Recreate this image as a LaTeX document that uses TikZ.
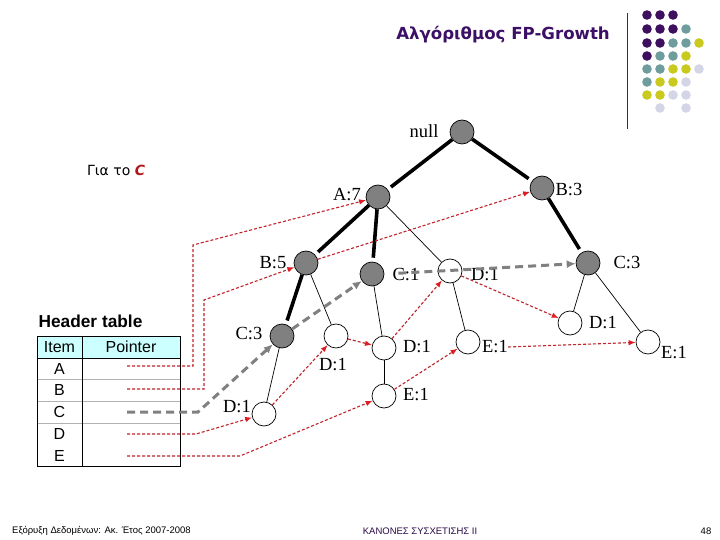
\documentclass[tikz,border=0pt]{standalone}
\usepackage{fontspec}
\setmainfont{Liberation Serif}
\newfontfamily\arialf{Liberation Sans}
\newfontfamily\titlef{DejaVu Sans}
\usetikzlibrary{arrows.meta}
\definecolor{ptr}{HTML}{C0232B}
\definecolor{ptrhead}{HTML}{DD1C24}
\definecolor{nodegray}{HTML}{808080}
\definecolor{hdrcyan}{HTML}{CCFFFF}
\definecolor{titlepurple}{HTML}{3C1066}
\definecolor{dpurple}{HTML}{3E0F5E}
\definecolor{dteal}{HTML}{6F9D9D}
\definecolor{dyellow}{HTML}{C9C91E}
\definecolor{dlav}{HTML}{D5D5E8}
\definecolor{gcred}{HTML}{B01818}
\tikzset{
  gnode/.style={circle,draw=black,line width=0.7pt,fill=nodegray,minimum size=24pt,inner sep=0pt},
  wnode/.style={circle,draw=black,line width=0.7pt,fill=white,minimum size=24pt,inner sep=0pt},
  lbl/.style={inner sep=0pt,font=\fontsize{18.5}{20}\selectfont},
  thk/.style={line width=3.6pt,shorten >=4pt},
  thn/.style={line width=0.7pt},
  redptr/.style={draw=ptr,line width=1.1pt,dash pattern=on 3pt off 2pt,-{Latex[length=7pt,width=5.5pt,fill=ptrhead,color=ptrhead]}},
  grayptr/.style={draw=nodegray,line width=3pt,dash pattern=on 8pt off 5pt,-{Latex[length=9pt,width=8pt]}},
  tabtxt/.style={inner sep=0pt,font=\arialf\fontsize{16}{18}\selectfont},
  foot/.style={inner sep=0pt,font=\arialf\fontsize{9.5}{11}\selectfont}
}
\begin{document}
\begin{tikzpicture}[x=1pt,y=-1pt]
\useasboundingbox (0,0) rectangle (720,540);
\fill[white] (0,0) rectangle (720,540);

% title and decoration
\node[inner sep=0pt,font=\titlef\bfseries\fontsize{16.6}{18}\selectfont,text=titlepurple] (title) at (503,35) {Αλγόριθμος FP-Growth};
\draw[line width=1pt,black!80] (627,13) -- (627,129);
\foreach \c/\x/\y in {dpurple/647/15,dpurple/660/15,dpurple/673/15,
  dpurple/647/29,dpurple/660/29,dpurple/673/29,dteal/686/29,
  dpurple/647/43,dpurple/660/43,dteal/673/43,dteal/686/43,dyellow/699/43,
  dpurple/647/56,dteal/660/56,dteal/673/56,dyellow/686/56,
  dteal/647/69,dteal/660/69,dyellow/673/69,dyellow/686/69,dlav/699/69,
  dteal/647/82,dyellow/660/82,dyellow/673/82,dlav/686/82,
  dyellow/647/95,dyellow/660/95,dlav/673/95,dlav/686/95,
  dlav/660/108,dlav/686/108}
  \fill[\c] (\x,\y) circle (4.8pt);

% "Για το C"
\node[inner sep=0pt,font=\titlef\fontsize{14}{16}\selectfont,anchor=west] (gia) at (87,170) {Για το \textcolor{gcred}{\bfseries\itshape C}};

% tree nodes
\node[gnode] (null) at (462,132) {};
\node[gnode] (A7) at (378,197) {};
\node[gnode] (B3) at (542,188) {};
\node[gnode] (B5) at (306,263) {};
\node[gnode] (C1) at (372,274) {};
\node[wnode] (D1a) at (450,271) {};
\node[gnode] (C3r) at (588,263) {};
\node[gnode] (C3l) at (282,336) {};
\node[wnode] (D1b) at (336,336) {};
\node[wnode] (D1c) at (384,348) {};
\node[wnode] (E1c) at (384,396) {};
\node[wnode] (D1d) at (264,414) {};
\node[wnode] (E1a) at (468,342) {};
\node[wnode] (D1r) at (570,323) {};
\node[wnode] (E1r) at (648,342) {};

% labels
\node[lbl] (lnull) at (424,131) {null};
\node[lbl] (lA7) at (347,195) {A:7};
\node[lbl] (lB3) at (569,190) {B:3};
\node[lbl] (lB5) at (273,263) {B:5};
\node[lbl] (lC1) at (406,275) {C:1};
\node[lbl] (lD1a) at (485,275) {D:1};
\node[lbl] (lC3r) at (627,263) {C:3};
\node[lbl] (lC3l) at (249,334) {C:3};
\node[lbl] (lD1b) at (333,365) {D:1};
\node[lbl] (lD1c) at (417,347) {D:1};
\node[lbl] (lE1c) at (416,395) {E:1};
\node[lbl] (lD1d) at (237,407) {D:1};
\node[lbl] (lE1a) at (495,347) {E:1};
\node[lbl] (lD1r) at (603,323) {D:1};
\node[lbl] (lE1r) at (674,353) {E:1};

% tree edges
\draw[thk] (null) -- (A7);
\draw[thk] (null) -- (B3);
\draw[thk] (A7) -- (B5);
\draw[thk] (A7) -- (C1);
\draw[thn] (A7) -- (D1a);
\draw[thk] (B5) -- (C3l);
\draw[thn] (B5) -- (D1b);
\draw[thn] (C3l) -- (D1d);
\draw[thn] (C1) -- (D1c);
\draw[thn] (D1c) -- (E1c);
\draw[thn] (D1a) -- (E1a);
\draw[thk] (B3) -- (C3r);
\draw[thn] (C3r) -- (D1r);
\draw[thn] (C3r) -- (E1r);

% header table
\node[inner sep=0pt,font=\arialf\bfseries\fontsize{17.3}{19}\selectfont] (htitle) at (90.5,321) {Header table};
\fill[hdrcyan] (37,336) rectangle (180,358);
\draw[black!30,line width=0.8pt] (37,379) -- (180,379) (37,401) -- (180,401) (37,423) -- (180,423);
\draw[line width=0.9pt] (37,336) rectangle (180,466);
\draw[line width=0.9pt] (82,336) -- (82,466) (37,358) -- (180,358);
\node[tabtxt] (hItem) at (59.5,347) {Item};
\node[tabtxt] (hPtr) at (131,347) {Pointer};
\node[tabtxt] (rA) at (59.5,369) {A};
\node[tabtxt] (rB) at (59.5,390) {B};
\node[tabtxt] (rC) at (59.5,412) {C};
\node[tabtxt] (rD) at (59.5,434) {D};
\node[tabtxt] (rE) at (59.5,456) {E};
\coordinate (pA) at (127,366);
\coordinate (pB) at (127,389);
\coordinate (pC) at (127,412);
\coordinate (pD) at (127,434);
\coordinate (pE) at (127,456);

% node-links: A
\draw[redptr] (pA) -- (193,366) -- (193,245) -- (A7);
% B
\draw[redptr] (pB) -- (204,389) -- (204,300) -- (B5);
\draw[redptr] (B5) -- (B3);
% C
\draw[grayptr] (pC) -- (198,412) -- (C3l);
\draw[grayptr] (C3l) -- (C1);
\draw[grayptr,shorten <=14pt] (C1.east) -- (C3r);
% D
\draw[redptr] (pD) -- (196,434) -- (D1d);
\draw[redptr] (D1d) -- (D1b);
\draw[redptr] (D1b) -- (D1c);
\draw[redptr] (D1c) -- (D1a);
\draw[redptr] (D1a) -- (D1r);
% E
\draw[redptr] (pE) -- (240,456) -- (E1c);
\draw[redptr] (E1c) -- (E1a);
\draw[redptr] (lE1a.east) -- (E1r);

% footer
\node[foot,anchor=west] (f1) at (12,531) {Εξόρυξη Δεδομένων: Ακ. Έτος 2007-2008};
\node[foot,text=titlepurple!70!black] (f2) at (420,531) {ΚΑΝΟΝΕΣ ΣΥΣΧΕΤΙΣΗΣ II};
\node[foot] (f3) at (706,531) {48};
\end{tikzpicture}
\end{document}
